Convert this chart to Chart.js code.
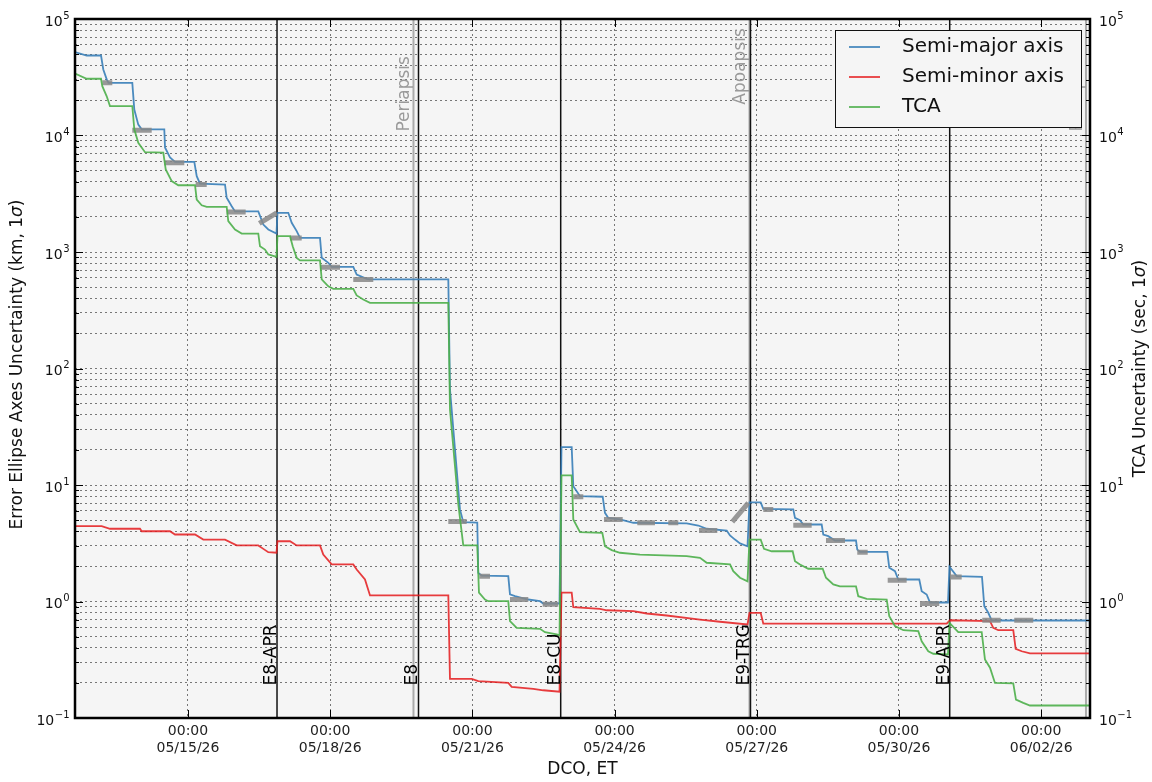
<!DOCTYPE html>
<html>
<head>
<meta charset="utf-8">
<title>Error ellipse and TCA uncertainty</title>
<script src="https://cdn.jsdelivr.net/npm/chart.js@4.4.1/dist/chart.umd.min.js"></script>
<style>
  body { margin: 0; background: #fff; }
</style>
</head>
<body>
<canvas id="chart" width="1152" height="782"></canvas>
<script>
// x values are days counted from May 2026 (33.0 = 06/02/26 00:00)
const tickDays = [15, 18, 21, 24, 27, 30, 33];

// Semi-major axis (km, 1 sigma)
const majorDays = [12.616, 12.863, 13.165, 13.213, 13.285, 13.323, 13.825, 13.867, 13.951, 14.023,
  14.5, 14.515, 14.62, 14.726, 15.133, 15.184, 15.253, 15.781, 15.816, 15.922,
  15.992, 16.483, 16.589, 16.694, 16.867, 16.888, 17.116, 17.188, 17.293, 17.363,
  17.785, 17.821, 17.96, 18.032, 18.487, 18.559, 18.77, 18.84, 20.492, 20.527,
  20.633, 20.738, 20.808, 21.103, 21.124, 21.196, 21.757, 21.793, 21.899, 22.179,
  22.426, 22.496, 22.838, 22.88, 23.095, 23.129, 23.27, 23.749, 23.797, 23.867,
  24.114, 24.395, 25.521, 25.766, 25.943, 26.365, 26.435, 26.54, 26.646, 26.804,
  26.846, 27.082, 27.137, 27.77, 27.806, 27.911, 27.981, 28.369, 28.403, 28.508,
  28.65, 29.093, 29.12, 29.177, 29.753, 29.795, 29.916, 29.985, 30.428, 30.479,
  30.584, 30.654, 31.034, 31.065, 31.217, 31.751, 31.8, 31.884, 31.956, 34.03];
const majorVals = [51900, 48600, 48600, 36900, 30300, 28300, 28300, 16700, 12400, 11300,
  11300, 7890, 6480, 5940, 5940, 4480, 3870, 3790, 2920, 2470,
  2230, 2230, 1720, 1560, 1440, 2170, 2170, 1780, 1510, 1320,
  1320, 891, 808, 746, 746, 641, 589, 581, 581, 66.1,
  20.2, 6.17, 4.8, 4.76, 1.76, 1.67, 1.65, 1.15, 1.11, 1.04,
  1.006, 0.961, 0.961, 21.1, 21.1, 9.77, 8.01, 7.93, 5.77, 5.22,
  5.06, 4.74, 4.68, 4.49, 4.21, 4.06, 3.69, 3.4, 3.15, 2.98,
  7.08, 7.08, 6.25, 6.17, 5.22, 4.99, 4.58, 4.58, 3.76, 3.64,
  3.34, 3.34, 2.79, 2.67, 2.67, 1.95, 1.82, 1.545, 1.545, 1.225,
  1.148, 0.98, 0.98, 1.99, 1.65, 1.63, 0.912, 0.8, 0.687, 0.687];

// Semi-minor axis (km, 1 sigma)
const minorDays = [12.616, 13.179, 13.354, 13.987, 14.023, 14.62, 14.726, 15.148, 15.323, 15.781,
  16.027, 16.483, 16.589, 16.694, 16.867, 16.888, 17.152, 17.293, 17.785, 17.854,
  18.032, 18.487, 18.559, 18.734, 18.84, 20.492, 20.527, 20.985, 21.124, 21.757,
  21.829, 22.285, 22.496, 22.838, 22.88, 23.095, 23.129, 23.692, 23.833, 24.395,
  24.677, 25.099, 25.802, 26.224, 26.804, 26.846, 27.082, 27.137, 31.006, 31.076,
  31.92, 31.989, 32.095, 32.411, 32.462, 32.589, 32.764, 34.03];
const minorVals = [4.43, 4.43, 4.21, 4.21, 4.01, 4.01, 3.76, 3.76, 3.4, 3.4,
  3.03, 3.03, 2.83, 2.65, 2.62, 3.29, 3.29, 3.03, 3.03, 2.53,
  2.08, 2.08, 1.88, 1.545, 1.127, 1.127, 0.217, 0.217, 0.207, 0.2,
  0.185, 0.178, 0.173, 0.168, 1.19, 1.19, 0.893, 0.865, 0.841, 0.826,
  0.789, 0.758, 0.7, 0.67, 0.635, 0.8, 0.8, 0.647, 0.647, 0.69,
  0.678, 0.594, 0.567, 0.567, 0.393, 0.374, 0.358, 0.358];

// TCA (sec, 1 sigma), right axis
const tcaDays = [12.616, 12.863, 13.165, 13.192, 13.285, 13.354, 13.825, 13.867, 13.951, 14.093,
  14.479, 14.53, 14.656, 14.795, 15.148, 15.184, 15.289, 15.395, 15.816, 15.85,
  15.992, 16.133, 16.483, 16.519, 16.624, 16.694, 16.867, 16.888, 17.152, 17.209,
  17.293, 17.363, 17.785, 17.821, 17.96, 18.065, 18.487, 18.559, 18.698, 18.84,
  20.492, 20.527, 20.633, 20.703, 20.808, 21.103, 21.139, 21.266, 21.335, 21.757,
  21.793, 21.935, 22.426, 22.532, 22.778, 22.838, 22.88, 23.095, 23.129, 23.27,
  23.741, 23.797, 23.939, 24.114, 24.536, 25.521, 25.802, 25.943, 26.435, 26.504,
  26.646, 26.804, 26.846, 27.082, 27.152, 27.314, 27.757, 27.806, 27.911, 28.086,
  28.39, 28.46, 28.614, 28.755, 29.093, 29.141, 29.319, 29.741, 29.795, 29.916,
  30.091, 30.407, 30.479, 30.618, 30.724, 31.034, 31.065, 31.251, 31.745, 31.814,
  31.92, 32.025, 32.411, 32.468, 32.622, 32.764, 34.03];
const tcaVals = [34000, 30700, 30700, 26500, 21700, 17900, 17900, 11300, 8650, 7190,
  7120, 5110, 4060, 3740, 3740, 2820, 2520, 2440, 2440, 1840,
  1560, 1440, 1440, 1120, 1050, 952, 910, 1370, 1370, 1120,
  891, 846, 846, 581, 508, 483, 483, 424, 391, 366,
  366, 44.5, 14.5, 6.81, 3.03, 3.03, 1.19, 1.04, 1.006, 1.006,
  0.678, 0.594, 0.583, 0.545, 0.521, 0.511, 12.1, 12.1, 5.06, 3.94,
  3.89, 2.98, 2.76, 2.62, 2.53, 2.45, 2.37, 2.15, 2.08, 1.82,
  1.6, 1.49, 3.4, 3.4, 2.83, 2.7, 2.7, 2.22, 2.08, 1.91,
  1.91, 1.6, 1.4, 1.35, 1.35, 1.11, 1.054, 1.04, 0.748, 0.614,
  0.567, 0.556, 0.456, 0.374, 0.356, 0.351, 0.656, 0.545, 0.545, 0.318,
  0.27, 0.2, 0.198, 0.144, 0.135, 0.128, 0.128];

// gray prediction markers (start/end day, start/end value)
const markT0 = [13.192, 13.825, 14.5, 15.162, 15.816, 16.504, 17.152, 17.785, 18.487, 20.492,
  21.146, 21.793, 22.483, 23.129, 23.776, 24.479, 25.133, 25.781, 26.483, 27.137,
  27.77, 28.46, 29.12, 29.762, 30.443, 31.091, 31.757, 32.432];
const markT1 = [13.403, 14.234, 14.922, 15.395, 16.217, 16.871, 17.399, 18.207, 18.909, 20.88,
  21.371, 22.179, 22.812, 23.34, 24.171, 24.852, 25.344, 26.167, 26.821, 27.348,
  28.158, 28.861, 29.34, 30.162, 30.85, 31.323, 32.146, 32.833];
const markV0 = [28300, 11100, 5830, 3790, 2210, 1760, 1320, 741, 581, 4.86,
  1.65, 1.04, 0.948, 7.93, 5.06, 4.74, 4.74, 4.06, 4.83, 6.17,
  4.52, 3.34, 2.65, 1.52, 0.961, 1.62, 0.69, 0.69];
const markV1 = [28300, 11100, 5830, 3790, 2210, 2170, 1320, 741, 581, 4.86,
  1.65, 1.04, 0.948, 7.93, 5.06, 4.74, 4.74, 4.06, 7.03, 6.17,
  4.52, 3.34, 2.65, 1.52, 0.961, 1.62, 0.69, 0.69];

// maneuver events (black) and orbit points (gray)
const eventNames = ['E8-APR', 'E8', 'E8-CU', 'E9-TRG', 'E9-APR'];
const eventDays = [16.878, 19.863, 22.863, 26.867, 31.07];
const eventLabelVal = 0.19;
const orbitNames = ['Periapsis', 'Apoapsis', 'Periapsis'];
const orbitDays = [19.757, 26.846, 33.945];
const orbitLabelVals = [10800, 18400, 10800];

const FONT = '"DejaVu Sans", Verdana, sans-serif';
const BLUE = 'rgba(55,126,184,0.9)';
const RED = 'rgba(228,26,28,0.85)';
const GREEN = 'rgba(77,175,74,0.9)';
const GRID = '#777';

function toPoints(days, vals) {
  return days.map((d, i) => ({ x: d, y: vals[i] }));
}

const markPoints = [];
markT0.forEach((t, i) => {
  markPoints.push({ x: t, y: markV0[i] }, { x: markT1[i], y: markV1[i] }, { x: markT1[i], y: null });
});

// log ticks 1..9 x 10^n for the grid
function logTicks(scale) {
  const ticks = [];
  for (let e = -1; e < 5; e++) {
    for (let m = 1; m < 10; m++) ticks.push({ value: m * Math.pow(10, e), major: m === 1 });
  }
  ticks.push({ value: 1e5, major: true });
  scale.ticks = ticks;
}

function dayLabel(d) {
  let month = 5, day = Math.round(d);
  if (day > 31) { month = 6; day -= 31; }
  return String(month).padStart(2, '0') + '/' + String(day).padStart(2, '0') + '/26';
}

function vText(ctx, text, x, y, color) {
  ctx.save();
  ctx.translate(x, y);
  ctx.rotate(-Math.PI / 2);
  ctx.fillStyle = color;
  ctx.textAlign = 'left';
  ctx.textBaseline = 'alphabetic';
  ctx.fillText(text, 0, 0);
  ctx.restore();
}

// rotated axis title with an italic sigma
function axisTitle(ctx, before, after, cx, cy) {
  ctx.save();
  ctx.translate(cx, cy);
  ctx.rotate(-Math.PI / 2);
  ctx.fillStyle = '#111';
  ctx.textBaseline = 'middle';
  ctx.textAlign = 'left';
  const plain = '17px ' + FONT, ital = 'italic 17px ' + FONT;
  ctx.font = plain;
  const w1 = ctx.measureText(before).width, w3 = ctx.measureText(after).width;
  ctx.font = ital;
  const w2 = ctx.measureText('\u03c3').width;
  let x = -(w1 + w2 + w3) / 2;
  ctx.font = plain; ctx.fillText(before, x, 0); x += w1;
  ctx.font = ital; ctx.fillText('\u03c3', x, 0); x += w2;
  ctx.font = plain; ctx.fillText(after, x, 0);
  ctx.restore();
}

function powLabel(ctx, exp, x, y, alignRight) {
  const base = '10', sup = String(exp).replace('-', '\u2212');
  ctx.font = '14px ' + FONT;
  const wb = ctx.measureText(base).width;
  ctx.font = '10px ' + FONT;
  const ws = ctx.measureText(sup).width;
  const x0 = alignRight ? x - wb - ws : x;
  ctx.textAlign = 'left';
  ctx.textBaseline = 'middle';
  ctx.fillStyle = '#111';
  ctx.font = '14px ' + FONT;
  ctx.fillText(base, x0, y + 3);
  ctx.font = '10px ' + FONT;
  ctx.fillText(sup, x0 + wb + 0.5, y - 3);
}

const decor = {
  id: 'decor',
  beforeDraw(chart) {
    const ctx = chart.ctx, a = chart.chartArea;
    ctx.save();
    ctx.fillStyle = '#fff';
    ctx.fillRect(0, 0, chart.width, chart.height);
    ctx.fillStyle = '#f5f5f5';
    ctx.fillRect(a.left, a.top, a.right - a.left, a.bottom - a.top);
    ctx.restore();
  },
  beforeDatasetsDraw(chart) {
    const ctx = chart.ctx, a = chart.chartArea, xs = chart.scales.x;
    ctx.save();
    ctx.lineWidth = 2;
    ctx.strokeStyle = '#ababab';
    orbitDays.forEach(d => {
      const px = xs.getPixelForValue(d);
      ctx.beginPath(); ctx.moveTo(px, a.top); ctx.lineTo(px, a.bottom); ctx.stroke();
    });
    ctx.lineWidth = 1.5;
    ctx.strokeStyle = '#111';
    eventDays.forEach(d => {
      const px = xs.getPixelForValue(d);
      ctx.beginPath(); ctx.moveTo(px, a.top); ctx.lineTo(px, a.bottom); ctx.stroke();
    });
    ctx.restore();
  },
  afterDatasetsDraw(chart) {
    const ctx = chart.ctx, xs = chart.scales.x, ys = chart.scales.y;
    ctx.save();
    ctx.font = '17px ' + FONT;
    orbitNames.forEach((name, i) => {
      vText(ctx, name, xs.getPixelForValue(orbitDays[i]) - 4, ys.getPixelForValue(orbitLabelVals[i]), '#9a9a9a');
    });
    eventNames.forEach((name, i) => {
      vText(ctx, name, xs.getPixelForValue(eventDays[i]) - 1, ys.getPixelForValue(eventLabelVal), '#000');
    });
    ctx.restore();
  },
  afterDraw(chart) {
    const ctx = chart.ctx, a = chart.chartArea, xs = chart.scales.x, ys = chart.scales.y;
    ctx.save();
    // inward tick marks
    ctx.strokeStyle = '#000';
    ctx.lineWidth = 1;
    ys.ticks.forEach(t => {
      const py = Math.round(ys.getPixelForValue(t.value)) + 0.5;
      const len = t.major ? 8 : 4;
      ctx.beginPath();
      ctx.moveTo(a.left, py); ctx.lineTo(a.left + len, py);
      ctx.moveTo(a.right, py); ctx.lineTo(a.right - len, py);
      ctx.stroke();
    });
    tickDays.forEach(d => {
      const px = Math.round(xs.getPixelForValue(d)) + 0.5;
      ctx.beginPath();
      ctx.moveTo(px, a.top); ctx.lineTo(px, a.top + 8);
      ctx.moveTo(px, a.bottom); ctx.lineTo(px, a.bottom - 8);
      ctx.stroke();
    });
    // frame
    ctx.lineWidth = 2.5;
    ctx.strokeRect(a.left, a.top, a.right - a.left, a.bottom - a.top);

    // decade labels on both sides
    for (let e = -1; e <= 5; e++) {
      const py = ys.getPixelForValue(Math.pow(10, e));
      powLabel(ctx, e, a.left - 6, py, true);
      powLabel(ctx, e, a.right + 9, py, false);
    }

    axisTitle(ctx, 'Error Ellipse Axes Uncertainty (km, 1', ')', 18, (a.top + a.bottom) / 2 - 4);
    axisTitle(ctx, 'TCA Uncertainty (sec, 1', ')', 1141, (a.top + a.bottom) / 2);

    // legend box
    const bx = a.right - 255, by = a.top + 11, bw = 246, bh = 97;
    ctx.fillStyle = '#f5f5f5';
    ctx.fillRect(bx, by, bw, bh);
    ctx.lineWidth = 1;
    ctx.strokeStyle = '#111';
    ctx.strokeRect(bx + 0.5, by + 0.5, bw, bh);
    ctx.font = '20px ' + FONT;
    ctx.textAlign = 'left';
    ctx.textBaseline = 'middle';
    chart.data.datasets.filter(ds => ds.inLegend).forEach((ds, i) => {
      const ly = by + 17 + i * 30;
      ctx.strokeStyle = ds.borderColor;
      ctx.lineWidth = 1.8;
      ctx.beginPath(); ctx.moveTo(bx + 14, ly); ctx.lineTo(bx + 45, ly); ctx.stroke();
      ctx.fillStyle = '#111';
      ctx.fillText(ds.label, bx + 67, ly);
    });
    ctx.restore();
  }
};

new Chart(document.getElementById('chart'), {
  type: 'line',
  data: {
    datasets: [
      { label: 'Semi-major axis', inLegend: true, data: toPoints(majorDays, majorVals), borderColor: BLUE, yAxisID: 'y', order: 3 },
      { label: 'Semi-minor axis', inLegend: true, data: toPoints(minorDays, minorVals), borderColor: RED, yAxisID: 'y', order: 2 },
      { label: 'TCA', inLegend: true, data: toPoints(tcaDays, tcaVals), borderColor: GREEN, yAxisID: 'y2', order: 0 },
      { label: 'fits', data: markPoints, borderColor: 'rgba(135,135,135,0.85)', borderWidth: 5,
        borderCapStyle: 'butt', spanGaps: false, yAxisID: 'y', order: 1 }
    ]
  },
  options: {
    responsive: false,
    animation: false,
    layout: { padding: { top: 19, left: 0, right: 0, bottom: 0 } },
    elements: {
      point: { radius: 0 },
      line: { borderWidth: 1.8, tension: 0, fill: false }
    },
    plugins: { legend: { display: false }, tooltip: { enabled: false } },
    scales: {
      x: {
        type: 'linear',
        min: 12.616,
        max: 34.03,
        afterBuildTicks: s => { s.ticks = tickDays.map(v => ({ value: v })); },
        afterFit: s => { s.height = 64; },
        grid: { color: GRID, lineWidth: 1, drawTicks: false },
        border: { display: false, dash: [2, 3] },
        ticks: {
          autoSkip: false,
          maxRotation: 0,
          padding: 5,
          color: '#222',
          font: { family: FONT, size: 14 },
          callback: v => ['00:00', dayLabel(v)]
        },
        title: { display: true, text: 'DCO, ET', color: '#111', font: { family: FONT, size: 17 }, padding: { top: 0, bottom: 2 } }
      },
      y: {
        type: 'logarithmic',
        position: 'left',
        min: 0.1,
        max: 1e5,
        afterBuildTicks: logTicks,
        afterFit: s => { s.width = 75; },
        grid: { color: GRID, lineWidth: 1, drawTicks: false },
        border: { display: false, dash: [2, 3] },
        ticks: { display: false }
      },
      y2: {
        type: 'logarithmic',
        position: 'right',
        min: 0.1,
        max: 1e5,
        afterBuildTicks: logTicks,
        afterFit: s => { s.width = 62; },
        grid: { drawOnChartArea: false, drawTicks: false },
        border: { display: false },
        ticks: { display: false }
      }
    }
  },
  plugins: [decor]
});
</script>
</body>
</html>
